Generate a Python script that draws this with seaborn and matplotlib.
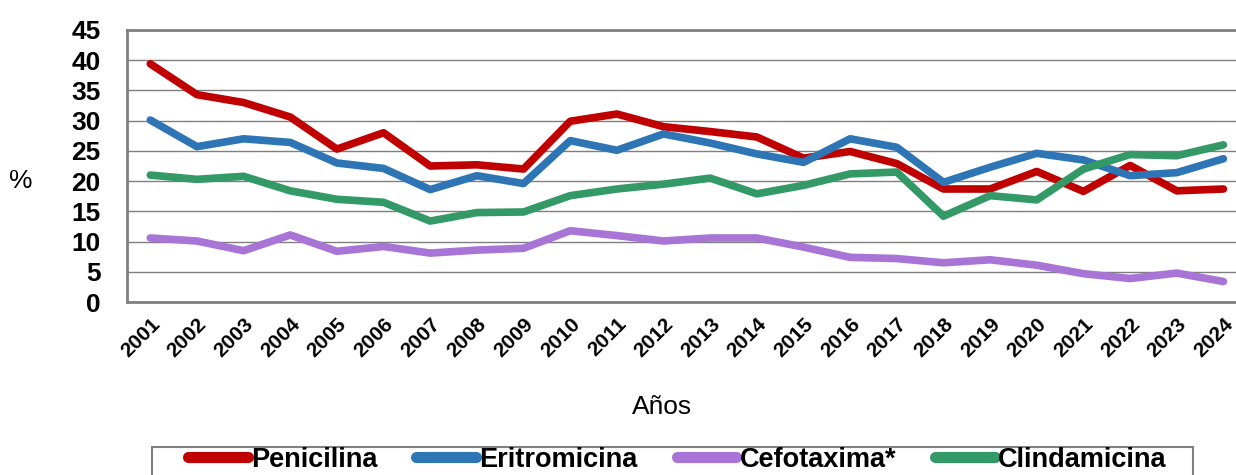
import numpy as np
import pandas as pd
import matplotlib
matplotlib.use('Agg')
import matplotlib.pyplot as plt
from matplotlib.lines import Line2D
from matplotlib.patches import Rectangle
import seaborn as sns

# datos
anios = [str(a) for a in range(2001, 2025)]
penicilina = [39.4, 34.3, 33.0, 30.6, 25.3, 28.0, 22.5, 22.7, 22.0, 29.9, 31.1, 29.0,
              28.2, 27.3, 23.8, 24.9, 22.9, 18.7, 18.7, 21.6, 18.3, 22.6, 18.4, 18.7]
eritromicina = [30.1, 25.7, 27.0, 26.4, 23.0, 22.1, 18.6, 20.9, 19.6, 26.7, 25.1, 27.8,
                26.3, 24.5, 23.1, 27.0, 25.6, 19.8, 22.3, 24.6, 23.5, 20.9, 21.4, 23.7]
cefotaxima = [10.6, 10.1, 8.5, 11.1, 8.4, 9.2, 8.1, 8.6, 8.9, 11.8, 11.0, 10.1,
              10.6, 10.6, 9.1, 7.4, 7.2, 6.5, 7.0, 6.1, 4.7, 3.9, 4.8, 3.4]
clindamicina = [21.0, 20.3, 20.8, 18.4, 17.0, 16.5, 13.4, 14.8, 14.9, 17.6, 18.7, 19.5,
                20.5, 17.9, 19.3, 21.2, 21.5, 14.2, 17.6, 16.9, 22.0, 24.4, 24.2, 26.0]

series = ['Penicilina', 'Eritromicina', 'Cefotaxima*', 'Clindamicina']
colores = ['#C00000', '#2E75B6', '#A874D6', '#339966']

sns.set_style('white')
plt.rcParams['font.family'] = ['Liberation Sans', 'DejaVu Sans']
plt.rcParams.update({'text.color': 'black', 'axes.labelcolor': 'black',
                     'xtick.color': 'black', 'ytick.color': 'black'})

df = pd.DataFrame({
    'x': list(range(len(anios))) * 4,
    'valor': penicilina + eritromicina + cefotaxima + clindamicina,
    'serie': sum([[s] * len(anios) for s in series], []),
})

fig = plt.figure(figsize=(12.36, 4.75), dpi=100)
ax = fig.add_axes([0.1027, 0.364, 0.906, 0.573])

sns.lineplot(data=df, x='x', y='valor', hue='serie', hue_order=series,
             palette=colores, linewidth=5.5, legend=False, ax=ax)
for ln in ax.lines:
    ln.set_solid_joinstyle('round')
    ln.set_solid_capstyle('round')

ax.set_xlim(-0.5, len(anios) - 0.5)
ax.set_ylim(0, 45)
ax.set_yticks(range(0, 46, 5))
ax.set_yticklabels([str(v) for v in range(0, 46, 5)], fontsize=19, fontweight='bold')
ax.set_xticks(range(len(anios)))
ax.set_xticklabels(anios, rotation=45, ha='right', rotation_mode='anchor',
                   fontsize=15, fontweight='bold')
ax.set_xticks(np.arange(-0.5, len(anios), 1), minor=True)
ax.tick_params(axis='x', which='major', length=0, pad=9)
ax.tick_params(axis='x', which='minor', length=7, color='#808080', width=1.2, direction='out')
ax.tick_params(axis='y', length=7, color='#808080', width=1.2, direction='out', pad=12)

ax.grid(axis='y', color='#7f7f7f', linewidth=1)
ax.set_axisbelow(True)
for lado in ['left', 'bottom', 'top', 'right']:
    ax.spines[lado].set_color('#808080')
    ax.spines[lado].set_linewidth(2)

ax.set_xlabel('Años', fontsize=19)
ax.xaxis.set_label_coords(0.478, -0.34)
ax.set_ylabel('%', fontsize=19, rotation=0)
ax.yaxis.set_label_coords(-0.0947, 0.40)

# recuadro de la leyenda
fig.patches.append(Rectangle((152 / 1236, -0.05), (1193 - 152) / 1236, 0.109,
                             transform=fig.transFigure, facecolor='white',
                             edgecolor='#808080', linewidth=1.5, zorder=0))
manijas = [Line2D([0], [0], color=c, linewidth=8, solid_capstyle='round') for c in colores]
leg = fig.legend(manijas, series, loc='upper left', bbox_to_anchor=(188 / 1236, 0.059),
                 ncol=4, frameon=False, handlelength=2.2, handletextpad=0.12,
                 columnspacing=1.45, borderpad=0, borderaxespad=0,
                 prop={'size': 19.5, 'weight': 'bold'})

plt.savefig('out.png', dpi=100)
